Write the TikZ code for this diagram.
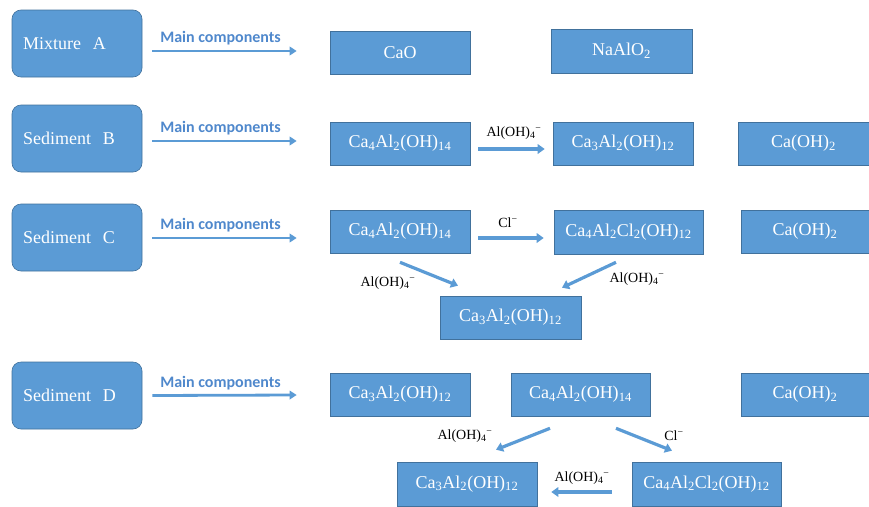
\documentclass[tikz,border=0pt]{standalone}
\usepackage{fontspec}
\setmainfont{Liberation Serif}
\newfontfamily\calibri{Carlito}
\usetikzlibrary{arrows.meta,calc}
\definecolor{boxblue}{RGB}{91,155,213}
\definecolor{boxedge}{RGB}{65,113,156}
\definecolor{labelblue}{RGB}{79,136,204}
\tikzset{
  samplebox/.style={draw=boxedge,line width=0.6pt,fill=boxblue,rounded corners=9pt,
    minimum width=130,minimum height=67,text width=108,inner xsep=11,align=left,
    text=white,font=\fontsize{18}{20}\selectfont},
  chembox/.style={draw=boxedge,line width=0.6pt,fill=boxblue,minimum width=140,
    minimum height=43,text=white,font=\fontsize{18}{20}\selectfont},
  mainarrow/.style={draw=boxblue,line width=2.8pt,-{Triangle[length=7pt,width=8.5pt]}},
  reacarrow/.style={draw=boxblue,line width=3.2pt,-{Triangle[length=7pt,width=9.5pt]}},
  mainlabel/.style={text=labelblue,font=\calibri\bfseries\fontsize{16}{18}\selectfont},
  reaclabel/.style={font=\fontsize{14}{16}\selectfont}
}
\newcommand{\alohf}{Al(OH)\textsubscript{4}\textsuperscript{−}}
\begin{document}
\begin{tikzpicture}[x=1pt,y=1pt,yscale=-1,xscale=1]
  \useasboundingbox (0,0) rectangle (869,506);

  % Sample boxes
  \node[samplebox] (mixA) at (77,43.5) {Mixture\ \ A};
  \node[samplebox] (sedB) at (77,138.5) {Sediment\ \ B};
  \node[samplebox] (sedC) at (77,237.5) {Sediment\ \ C};
  \node[samplebox] (sedD) at (77,395.5) {Sediment\ \ D};

  % Row A
  \node[chembox] (cao) at (400,52.5) {CaO};
  \node[chembox,minimum width=141,minimum height=44] (naalo) at (621.5,51) {NaAlO\textsubscript{2}};
  % Row B
  \node[chembox] (bCaAlOH) at (400,143.5) {Ca\textsubscript{4}Al\textsubscript{2}(OH)\textsubscript{14}};
  \node[chembox] (bHydro) at (623,143.5) {Ca\textsubscript{3}Al\textsubscript{2}(OH)\textsubscript{12}};
  \node[chembox,minimum width=131] (bCaOH) at (803.5,143.5) {Ca(OH)\textsubscript{2}};
  % Row C
  \node[chembox] (cCaAlOH) at (400,231.5) {Ca\textsubscript{4}Al\textsubscript{2}(OH)\textsubscript{14}};
  \node[chembox,minimum width=149,minimum height=44] (cFriedel) at (628.5,232) {Ca\textsubscript{4}Al\textsubscript{2}Cl\textsubscript{2}(OH)\textsubscript{12}};
  \node[chembox,minimum width=128] (cCaOH) at (805,231.5) {Ca(OH)\textsubscript{2}};
  \node[chembox,minimum width=141] (cHydro) at (510.5,317.5) {Ca\textsubscript{3}Al\textsubscript{2}(OH)\textsubscript{12}};
  % Row D
  \node[chembox] (dHydro) at (400,394.5) {Ca\textsubscript{3}Al\textsubscript{2}(OH)\textsubscript{12}};
  \node[chembox,minimum width=139] (dCaAlOH) at (580.5,394.5) {Ca\textsubscript{4}Al\textsubscript{2}(OH)\textsubscript{14}};
  \node[chembox,minimum width=128] (dCaOH) at (805,394.5) {Ca(OH)\textsubscript{2}};
  \node[chembox,minimum height=44] (dHydroB) at (467,484) {Ca\textsubscript{3}Al\textsubscript{2}(OH)\textsubscript{12}};
  \node[chembox,minimum width=149,minimum height=44] (dFriedel) at (706.5,484) {Ca\textsubscript{4}Al\textsubscript{2}Cl\textsubscript{2}(OH)\textsubscript{12}};

  % Main components arrows
  \draw[mainarrow] ($(mixA.east)+(10,7.5)$) -- ($(cao.west)+(-33,-1.5)$)
    node[mainlabel,midway,above=1pt,xshift=-4pt] (lblA) {Main components};
  \draw[mainarrow] ($(sedB.east)+(10,2.5)$) -- ($(bCaAlOH.west)+(-33,-2.5)$)
    node[mainlabel,midway,above=1pt,xshift=-4pt] (lblB) {Main components};
  \draw[mainarrow] ($(sedC.east)+(10,0.5)$) -- ($(cCaAlOH.west)+(-33,6.5)$)
    node[mainlabel,midway,above=1pt,xshift=-4pt] (lblC) {Main components};
  \draw[mainarrow] ($(sedD.east)+(10,0)$) -- ($(dHydro.west)+(-33,0.5)$)
    node[mainlabel,midway,above=1pt,xshift=-4pt] (lblD) {Main components};

  % Reaction arrows
  \draw[reacarrow] ($(bCaAlOH.east)+(8,5.5)$) -- ($(bHydro.west)+(-8,5.5)$);
  \draw[reacarrow] ($(cCaAlOH.east)+(8,6.5)$) -- ($(cFriedel.west)+(-10,6)$);
  \draw[reacarrow] ($(cCaAlOH.south)+(0,9)$) -- ($(cHydro.north)+(-52.5,-10)$);
  \draw[reacarrow] ($(cFriedel.south)+(-12.5,8)$) -- ($(cHydro.north)+(51.5,-8)$);
  \draw[reacarrow] ($(dCaAlOH.south)+(-30.5,12)$) -- ($(dHydroB.north)+(29,-12)$);
  \draw[reacarrow] ($(dCaAlOH.south)+(35.5,12)$) -- ($(dFriedel.north)+(-34.5,-11)$);
  \draw[reacarrow] ($(dFriedel.west)+(-20,8)$) -- ($(dHydroB.east)+(14,8)$);

  % Text Node
  \node[reaclabel] (tB) at (514,133) {\alohf};
  % Text Node
  \node[reaclabel] (tC) at (508,223) {Cl\textsuperscript{−}};
  % Text Node
  \node[reaclabel] (tCl) at (388,283) {\alohf};
  % Text Node
  \node[reaclabel] (tCr) at (637,279) {\alohf};
  % Text Node
  \node[reaclabel] (tDl) at (465,436) {\alohf};
  % Text Node
  \node[reaclabel] (tDr) at (674,436) {Cl\textsuperscript{−}};
  % Text Node
  \node[reaclabel] (tDb) at (582,478) {\alohf};

\end{tikzpicture}
\end{document}
